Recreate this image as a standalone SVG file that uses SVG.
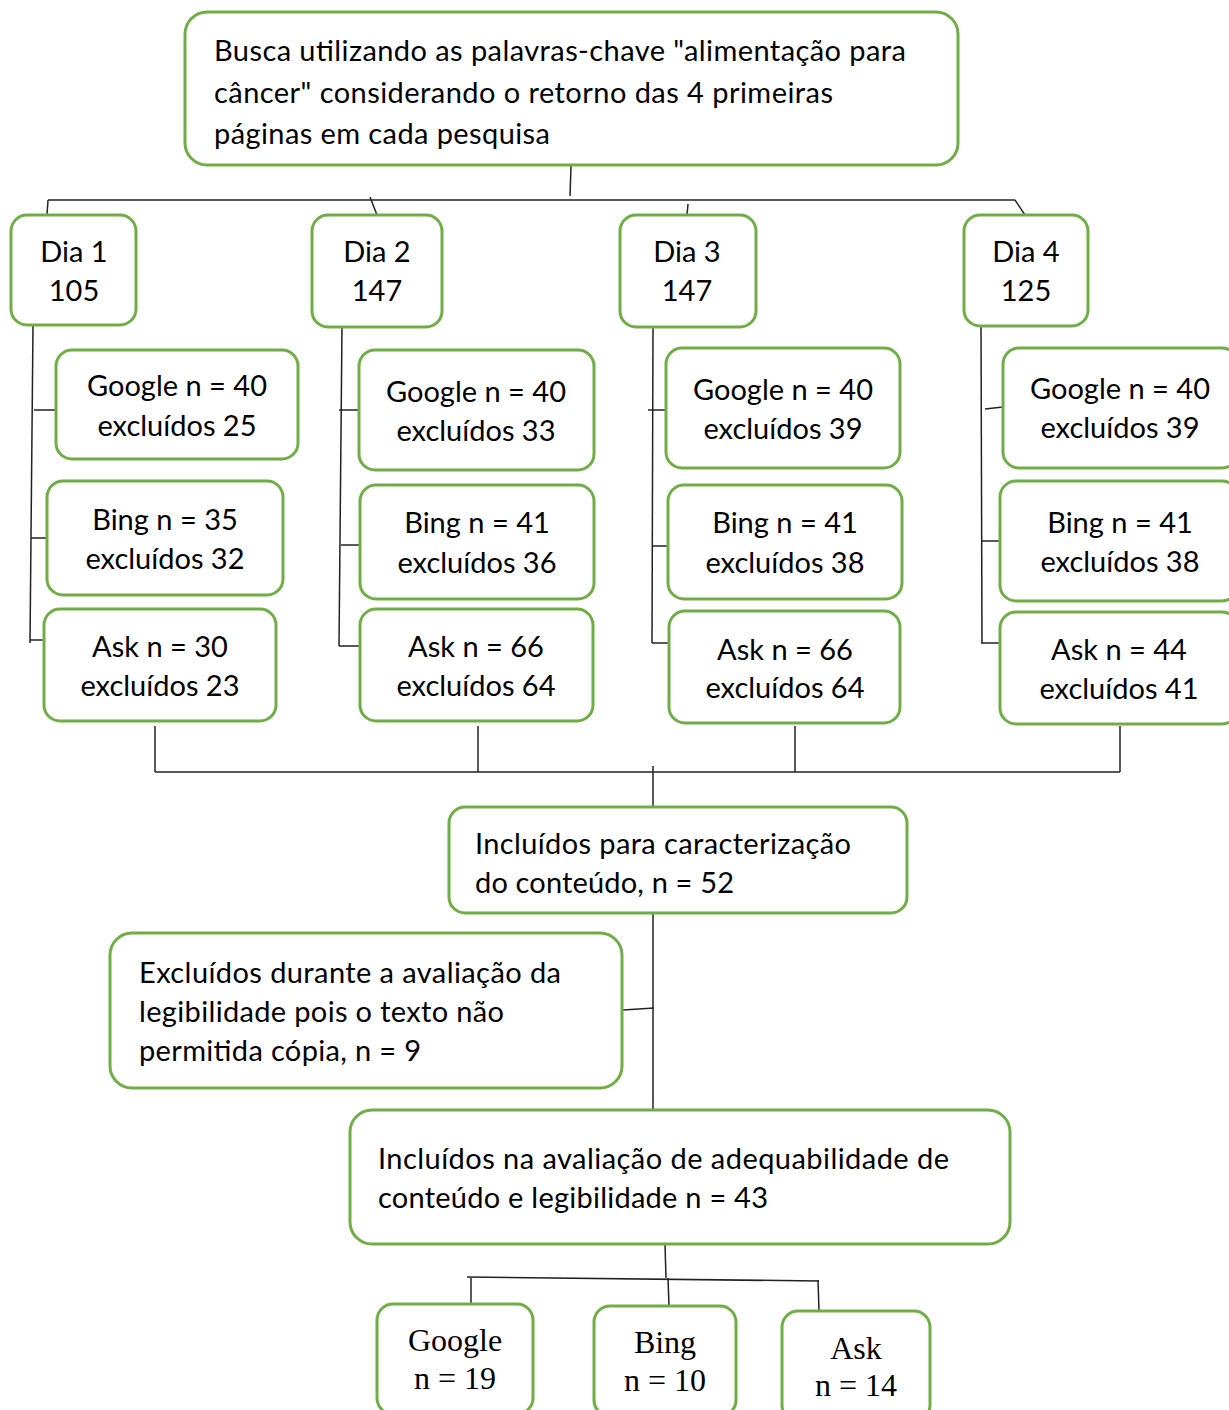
<svg xmlns="http://www.w3.org/2000/svg" width="1229" height="1410" viewBox="0 0 1229 1410">
<style>
.box{fill:#fff;stroke:#70AD47;stroke-width:3}
.t{font-family:Lato,"Open Sans","Liberation Sans",sans-serif;font-size:29px;fill:#000}
.c{text-anchor:middle}
.s{font-family:"Liberation Serif","Times New Roman",serif;font-size:32px;fill:#000;text-anchor:middle}
#connectors line{stroke:#222;stroke-width:1.5;fill:none}
</style>
<rect width="1229" height="1410" fill="#fff"/>
<g id="connectors">
<line x1="571" y1="166" x2="570" y2="196"/>
<line x1="48" y1="200" x2="1015" y2="200"/>
<line x1="48" y1="200" x2="47" y2="215"/>
<line x1="370" y1="197" x2="377" y2="215"/>
<line x1="688" y1="204" x2="687" y2="215"/>
<line x1="1015" y1="200" x2="1025" y2="215"/>
<line x1="33" y1="325" x2="30" y2="643"/>
<line x1="34" y1="410" x2="56" y2="410"/>
<line x1="31" y1="538" x2="47" y2="538"/>
<line x1="30" y1="640" x2="44" y2="640"/>
<line x1="342" y1="327" x2="339" y2="646"/>
<line x1="339" y1="410" x2="359" y2="410"/>
<line x1="341" y1="545" x2="360" y2="545"/>
<line x1="339" y1="646" x2="360" y2="646"/>
<line x1="653" y1="327" x2="652" y2="643"/>
<line x1="648" y1="410" x2="666" y2="410"/>
<line x1="652" y1="546" x2="668" y2="546"/>
<line x1="652" y1="643" x2="669" y2="643"/>
<line x1="981" y1="326" x2="982" y2="643"/>
<line x1="985" y1="409" x2="1003" y2="407"/>
<line x1="981" y1="541" x2="1000" y2="541"/>
<line x1="981" y1="643" x2="1000" y2="643"/>
<line x1="155" y1="726" x2="155" y2="772"/>
<line x1="478" y1="726" x2="478" y2="772"/>
<line x1="795" y1="726" x2="795" y2="772"/>
<line x1="1120" y1="726" x2="1120" y2="772"/>
<line x1="155" y1="772" x2="1120" y2="772"/>
<line x1="653" y1="766" x2="653" y2="807"/>
<line x1="653" y1="913" x2="653" y2="1110"/>
<line x1="623" y1="1010" x2="654" y2="1008"/>
<line x1="665" y1="1244" x2="666" y2="1278"/>
<line x1="467" y1="1277" x2="819" y2="1281"/>
<line x1="471" y1="1278" x2="471" y2="1304"/>
<line x1="668" y1="1278" x2="669" y2="1306"/>
<line x1="818" y1="1280" x2="819" y2="1311"/>
</g>
<g id="busca">
<rect class="box" x="185" y="12" width="773" height="153" rx="22"/>
<text class="t" x="214" y="61" textLength="692" lengthAdjust="spacing">Busca utilizando as palavras-chave "alimentação para</text>
<text class="t" x="214" y="103" textLength="619" lengthAdjust="spacing">câncer" considerando o retorno das 4 primeiras</text>
<text class="t" x="214" y="144" textLength="336" lengthAdjust="spacing">páginas em cada pesquisa</text>
</g>
<g id="dia1">
<rect class="box" x="11" y="215" width="125" height="110" rx="16"/>
<text class="t c" x="74" y="262">Dia 1</text>
<text class="t c" x="74" y="301">105</text>
</g>
<g id="dia2">
<rect class="box" x="312" y="215" width="130" height="112" rx="16"/>
<text class="t c" x="377" y="262">Dia 2</text>
<text class="t c" x="377" y="301">147</text>
</g>
<g id="dia3">
<rect class="box" x="620" y="215" width="136" height="112" rx="16"/>
<text class="t c" x="687" y="262">Dia 3</text>
<text class="t c" x="687" y="301">147</text>
</g>
<g id="dia4">
<rect class="box" x="964" y="215" width="124" height="111" rx="16"/>
<text class="t c" x="1026" y="262">Dia 4</text>
<text class="t c" x="1026" y="301">125</text>
</g>
<g id="google1">
<rect class="box" x="56" y="350" width="242" height="109" rx="16"/>
<text class="t c" x="177" y="396">Google n = 40</text>
<text class="t c" x="177" y="436">excluídos 25</text>
</g>
<g id="bing1">
<rect class="box" x="47" y="481" width="236" height="114" rx="16"/>
<text class="t c" x="165" y="530">Bing n = 35</text>
<text class="t c" x="165" y="569">excluídos 32</text>
</g>
<g id="ask1">
<rect class="box" x="44" y="609" width="232" height="112" rx="16"/>
<text class="t c" x="160" y="657">Ask n = 30</text>
<text class="t c" x="160" y="696">excluídos 23</text>
</g>
<g id="google2">
<rect class="box" x="359" y="350" width="235" height="120" rx="16"/>
<text class="t c" x="476" y="402">Google n = 40</text>
<text class="t c" x="476" y="441">excluídos 33</text>
</g>
<g id="bing2">
<rect class="box" x="360" y="485" width="234" height="114" rx="16"/>
<text class="t c" x="477" y="533">Bing n = 41</text>
<text class="t c" x="477" y="573">excluídos 36</text>
</g>
<g id="ask2">
<rect class="box" x="360" y="609" width="233" height="112" rx="16"/>
<text class="t c" x="476" y="657">Ask n = 66</text>
<text class="t c" x="476" y="696">excluídos 64</text>
</g>
<g id="google3">
<rect class="box" x="666" y="348" width="234" height="120" rx="16"/>
<text class="t c" x="783" y="400">Google n = 40</text>
<text class="t c" x="783" y="439">excluídos 39</text>
</g>
<g id="bing3">
<rect class="box" x="668" y="485" width="234" height="114" rx="16"/>
<text class="t c" x="785" y="533">Bing n = 41</text>
<text class="t c" x="785" y="573">excluídos 38</text>
</g>
<g id="ask3">
<rect class="box" x="669" y="611" width="231" height="112" rx="16"/>
<text class="t c" x="785" y="660">Ask n = 66</text>
<text class="t c" x="785" y="698">excluídos 64</text>
</g>
<g id="google4">
<rect class="box" x="1003" y="348" width="235" height="120" rx="16"/>
<text class="t c" x="1120" y="399">Google n = 40</text>
<text class="t c" x="1120" y="438">excluídos 39</text>
</g>
<g id="bing4">
<rect class="box" x="1000" y="481" width="238" height="120" rx="16"/>
<text class="t c" x="1120" y="533">Bing n = 41</text>
<text class="t c" x="1120" y="572">excluídos 38</text>
</g>
<g id="ask4">
<rect class="box" x="1000" y="612" width="238" height="112" rx="16"/>
<text class="t c" x="1119" y="660">Ask n = 44</text>
<text class="t c" x="1119" y="699">excluídos 41</text>
</g>
<g id="incluidos">
<rect class="box" x="449" y="807" width="458" height="106" rx="16"/>
<text class="t" x="475" y="854" textLength="376" lengthAdjust="spacing">Incluídos para caracterização</text>
<text class="t" x="475" y="893" textLength="259" lengthAdjust="spacing">do conteúdo, n = 52</text>
</g>
<g id="excluidos">
<rect class="box" x="110" y="933" width="512" height="155" rx="22"/>
<text class="t" x="139" y="983" textLength="422" lengthAdjust="spacing">Excluídos durante a avaliação da</text>
<text class="t" x="139" y="1022" textLength="365" lengthAdjust="spacing">legibilidade pois o texto não</text>
<text class="t" x="139" y="1061" textLength="282" lengthAdjust="spacing">permitida cópia, n = 9</text>
</g>
<g id="avaliacao">
<rect class="box" x="350" y="1110" width="660" height="134" rx="22"/>
<text class="t" x="378" y="1169" textLength="571" lengthAdjust="spacing">Incluídos na avaliação de adequabilidade de</text>
<text class="t" x="378" y="1208" textLength="390" lengthAdjust="spacing">conteúdo e legibilidade n = 43</text>
</g>
<g id="google">
<rect class="box" x="377" y="1304" width="156" height="110" rx="16"/>
<text class="s" x="455" y="1351">Google</text>
<text class="s" x="455" y="1389">n = 19</text>
</g>
<g id="bing">
<rect class="box" x="594" y="1306" width="142" height="110" rx="16"/>
<text class="s" x="665" y="1353">Bing</text>
<text class="s" x="665" y="1391">n = 10</text>
</g>
<g id="ask">
<rect class="box" x="782" y="1311" width="148" height="110" rx="16"/>
<text class="s" x="856" y="1359">Ask</text>
<text class="s" x="856" y="1396">n = 14</text>
</g>
</svg>
